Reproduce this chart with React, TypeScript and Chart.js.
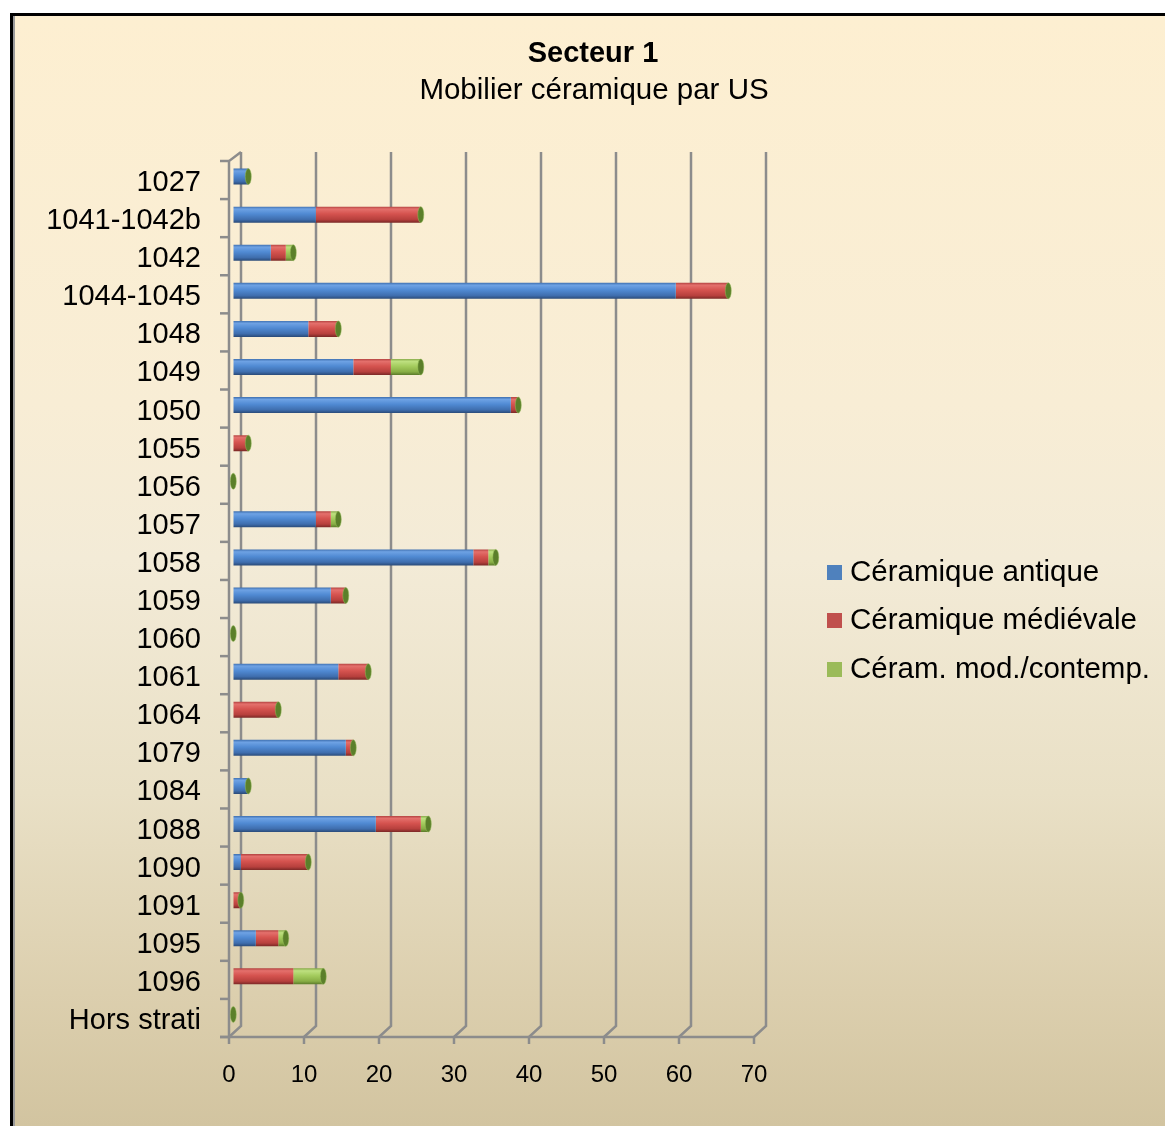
import React, { useEffect, useRef } from 'react';
import { Chart, registerables } from 'chart.js';

Chart.register(...registerables);

// ---- data ----
const categories = [
  '1027', '1041-1042b', '1042', '1044-1045', '1048', '1049', '1050', '1055', '1056', '1057', '1058',
  '1059', '1060', '1061', '1064', '1079', '1084', '1088', '1090', '1091', '1095', '1096', 'Hors strati',
];
const antique = [2, 11, 5, 59, 10, 16, 37, 0, 0, 11, 32, 13, 0, 14, 0, 15, 2, 19, 1, 0, 3, 0, 0];
const medievale = [0, 14, 2, 7, 4, 5, 1, 2, 0, 2, 2, 2, 0, 4, 6, 1, 0, 6, 9, 1, 3, 8, 0];
const moderne = [0, 0, 1, 0, 0, 4, 0, 0, 0, 1, 1, 0, 0, 0, 0, 0, 0, 1, 0, 0, 1, 4, 0];
const seriesNames = ['Céramique antique', 'Céramique médiévale', 'Céram. mod./contemp.'];
const xTickValues = [0, 10, 20, 30, 40, 50, 60, 70];
const titleText = 'Secteur 1';
const subtitleText = 'Mobilier céramique par US';

// ---- styles ----
const FONT = '"Liberation Sans", Arial, sans-serif';
const BACK_DX = 12;
const BACK_DY = -11;
const BAR_DX = 4.3;
const BAR_DY = -3.5;
const BAR_PCT = 0.42;
const legendColors = ['#4F81BD', '#C0504D', '#9BBB59'];
const gradStops = [
  ['#3F70B0', '#6EA2E4', '#508AD3', '#3F6EAE', '#2A4A78'],
  ['#B44341', '#E4706C', '#D5534F', '#B7403D', '#7A2826'],
  ['#88AB4A', '#BEE080', '#A4CC5E', '#88AE45', '#5B7A2A'],
];

function cylGrad(stops: string[]) {
  return (c: any) => {
    const chart = c.chart;
    const ys = chart.scales && chart.scales.y;
    if (!ys || c.dataIndex === undefined) return stops[2];
    const cy = ys.getPixelForValue(c.dataIndex);
    const band = Math.abs(ys.getPixelForValue(1) - ys.getPixelForValue(0));
    const half = (band * BAR_PCT) / 2;
    if (!Number.isFinite(cy) || !Number.isFinite(half) || half <= 0) return stops[2];
    const g = chart.ctx.createLinearGradient(0, cy - half, 0, cy + half);
    g.addColorStop(0, stops[0]);
    g.addColorStop(0.15, stops[1]);
    g.addColorStop(0.45, stops[2]);
    g.addColorStop(0.8, stops[3]);
    g.addColorStop(1, stops[4]);
    return g;
  };
}

const walls3d = {
  id: 'walls3d',
  beforeDatasetsDraw(chart: any) {
    const { ctx, chartArea: a, scales } = chart;
    const x = scales.x;
    const y = scales.y;
    ctx.save();
    ctx.strokeStyle = '#8C8C8C';
    ctx.lineWidth = 2.5;
    ctx.lineCap = 'butt';
    for (const v of xTickValues) {
      const xf = x.getPixelForValue(v);
      ctx.beginPath();
      ctx.moveTo(xf + BACK_DX, a.top - 9);
      ctx.lineTo(xf + BACK_DX, a.bottom + BACK_DY);
      ctx.lineTo(xf, a.bottom);
      ctx.stroke();
    }
    ctx.beginPath();
    ctx.moveTo(a.left + BACK_DX, a.top - 9);
    ctx.lineTo(a.left, a.top);
    ctx.lineTo(a.left, a.bottom);
    ctx.stroke();
    const xEnd = x.getPixelForValue(xTickValues[xTickValues.length - 1]);
    ctx.beginPath();
    ctx.moveTo(a.left - 9, a.bottom);
    ctx.lineTo(xEnd, a.bottom);
    ctx.stroke();
    for (const v of xTickValues) {
      const xf = x.getPixelForValue(v);
      ctx.beginPath();
      ctx.moveTo(xf, a.bottom);
      ctx.lineTo(xf, a.bottom + 7);
      ctx.stroke();
    }
    const band = Math.abs(y.getPixelForValue(1) - y.getPixelForValue(0));
    for (let i = 0; i <= categories.length; i++) {
      const yb = a.top + i * band;
      ctx.beginPath();
      ctx.moveTo(a.left - 9, yb);
      ctx.lineTo(a.left, yb);
      ctx.stroke();
    }
    ctx.restore();
    ctx.save();
    ctx.translate(BAR_DX, BAR_DY);
  },
  afterDatasetsDraw(chart: any) {
    const { ctx, scales } = chart;
    const x = scales.x;
    const y = scales.y;
    const band = Math.abs(y.getPixelForValue(1) - y.getPixelForValue(0));
    const half = (band * BAR_PCT) / 2;
    for (let i = 0; i < categories.length; i++) {
      const total = antique[i] + medievale[i] + moderne[i];
      const xe = x.getPixelForValue(total);
      const cy = y.getPixelForValue(i);
      ctx.beginPath();
      ctx.ellipse(xe, cy, 3, half, 0, 0, Math.PI * 2);
      ctx.fillStyle = '#5B7F2A';
      ctx.fill();
      ctx.strokeStyle = 'rgba(150,190,90,0.6)';
      ctx.lineWidth = 0.8;
      ctx.stroke();
    }
    ctx.restore();
  },
  afterDraw(chart: any) {
    const { ctx } = chart;
    ctx.save();
    ctx.fillStyle = '#000';
    ctx.textAlign = 'center';
    ctx.textBaseline = 'alphabetic';
    ctx.font = `bold 29px ${FONT}`;
    ctx.fillText(titleText, 593, 62);
    ctx.font = `29.5px ${FONT}`;
    ctx.fillText(subtitleText, 594, 99);
    const rows = [573, 621, 670];
    ctx.textAlign = 'left';
    ctx.textBaseline = 'middle';
    ctx.font = `29.5px ${FONT}`;
    for (let i = 0; i < seriesNames.length; i++) {
      ctx.fillStyle = legendColors[i];
      ctx.fillRect(827, rows[i] - 8, 15, 15);
      ctx.fillStyle = '#000';
      ctx.fillText(seriesNames[i], 850, rows[i]);
    }
    ctx.restore();
  },
};

export default function App() {
  const ref = useRef<HTMLCanvasElement>(null);
  useEffect(() => {
    const chart = new Chart(ref.current as HTMLCanvasElement, {
      type: 'bar',
      data: {
        labels: categories,
        datasets: [
          { label: seriesNames[0], data: antique, backgroundColor: cylGrad(gradStops[0]) as any, borderWidth: 0 },
          { label: seriesNames[1], data: medievale, backgroundColor: cylGrad(gradStops[1]) as any, borderWidth: 0 },
          { label: seriesNames[2], data: moderne, backgroundColor: cylGrad(gradStops[2]) as any, borderWidth: 0 },
        ],
      },
      options: {
        indexAxis: 'y',
        responsive: false,
        animation: false,
        devicePixelRatio: 1,
        layout: { padding: { left: 0, right: 411, top: 161, bottom: 0 } },
        datasets: { bar: { barPercentage: BAR_PCT, categoryPercentage: 1 } },
        plugins: { legend: { display: false }, tooltip: { enabled: false }, title: { display: false } },
        scales: {
          x: {
            stacked: true,
            min: 0,
            max: 70,
            afterFit: (s: any) => { s.height = 89; },
            afterBuildTicks: (s: any) => { s.ticks = xTickValues.map((v) => ({ value: v })); },
            grid: { display: false, drawTicks: false },
            border: { display: false },
            ticks: { color: '#000', font: { family: FONT, size: 24 }, padding: 24 },
          },
          y: {
            stacked: true,
            afterFit: (s: any) => { s.width = 229; },
            grid: { display: false, drawTicks: false },
            border: { display: false },
            ticks: { color: '#000', font: { family: FONT, size: 29 }, padding: 28, autoSkip: false, labelOffset: 3 },
          },
        },
      },
      plugins: [walls3d],
    });
    return () => chart.destroy();
  }, []);
  return (
    <div style={{ position: 'fixed', left: 0, top: 0, width: 1165, height: 1126, overflow: 'hidden', background: '#fff' }}>
      <div
        style={{
          position: 'absolute', left: 10, top: 13, width: 1200, height: 1113, boxSizing: 'border-box',
          borderLeft: '3px solid #000', borderTop: '3px solid #000', boxShadow: 'inset 2px 0 0 #9a9a9a',
          background: 'linear-gradient(to bottom, #FDEFD1 0%, #F8EDD5 35%, #F3EBD7 49%, #E9E0C6 70%, #DCCFAE 88%, #D2C4A0 100%)',
        }}
      />
      <canvas ref={ref} width={1165} height={1126} style={{ position: 'absolute', left: 0, top: 0, width: 1165, height: 1126 }} />
    </div>
  );
}
